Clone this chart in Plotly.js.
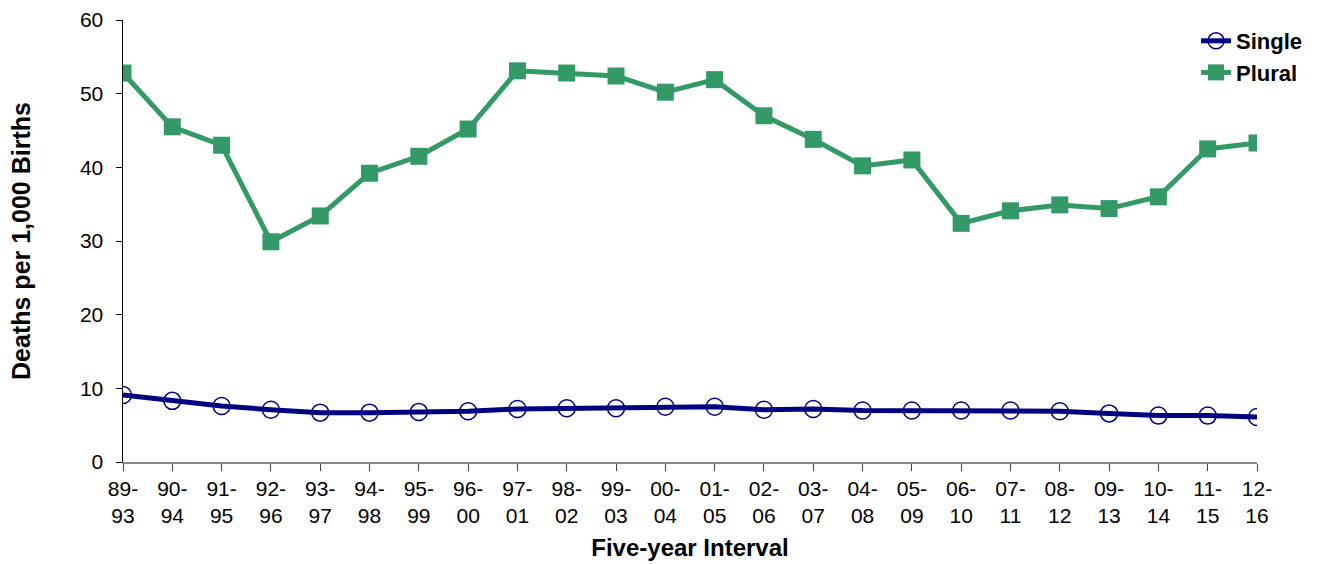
<!DOCTYPE html>
<html><head><meta charset="utf-8">
<script src="https://cdn.plot.ly/plotly-3.0.1.min.js"></script>
<style>body{margin:0;background:#fff}#chart{width:1320px;height:564px}</style>
</head><body><div id="chart"></div>
<script>
const categories = ["89-<br>93","90-<br>94","91-<br>95","92-<br>96","93-<br>97","94-<br>98","95-<br>99","96-<br>00","97-<br>01","98-<br>02","99-<br>03","00-<br>04","01-<br>05","02-<br>06","03-<br>07","04-<br>08","05-<br>09","06-<br>10","07-<br>11","08-<br>12","09-<br>13","10-<br>14","11-<br>15","12-<br>16"];
const single = [9.1,8.3,7.6,7.1,6.7,6.7,6.8,6.9,7.2,7.3,7.3,7.5,7.5,7.1,7.2,7.0,7.0,7.0,7.0,6.9,6.6,6.3,6.3,6.1];
const plural = [52.8,45.5,43.0,29.9,33.4,39.2,41.5,45.2,53.1,52.8,52.4,50.2,51.9,47.0,43.8,40.2,41.0,32.4,34.1,34.9,34.4,36.0,42.5,43.3];
const yTicks = [0,10,20,30,40,50,60];

const xIdx = categories.map((c,i)=>i);
const traces = [
  {x:xIdx, y:single, name:"Single", type:"scatter", mode:"lines+markers",
   line:{color:"#000080", width:5},
   marker:{symbol:"circle-open", size:17, color:"#000080", line:{width:1.5, color:"#000080"}}},
  {x:xIdx, y:plural, name:"Plural", type:"scatter", mode:"lines+markers",
   line:{color:"#339966", width:5},
   marker:{symbol:"square", size:17, color:"#339966"}}
];
const layout = {
  width:1320, height:564,
  margin:{l:123, r:59, t:20, b:102},
  paper_bgcolor:"#fff", plot_bgcolor:"#fff",
  font:{family:"Liberation Sans, Arial, sans-serif", size:21, color:"#000"},
  showlegend:true,
  legend:{x:1.045, xanchor:"right", y:1.0, yanchor:"top", bgcolor:"rgba(0,0,0,0)",
    font:{size:22, family:"Liberation Sans, Arial, sans-serif", weight:"bold"}, tracegroupgap:0},
  xaxis:{
    range:[0,23], tickmode:"array", tickvals:xIdx, ticktext:categories,
    showgrid:false, zeroline:false, showline:true, linecolor:"#888", linewidth:1.5,
    ticks:"outside", ticklen:7, tickcolor:"#444",
    tickfont:{size:21}, tickangle:0,
    title:{text:"<b>Five-year Interval</b>", font:{size:24}, standoff:13}
  },
  yaxis:{
    range:[0,60], tickmode:"array", tickvals:yTicks,
    showgrid:false, zeroline:false, showline:true, linecolor:"#000", linewidth:1.5,
    ticks:"outside", ticklen:6, tickcolor:"#000", ticklabelstandoff:8,
    tickfont:{size:21},
    title:{text:"<b>Deaths per 1,000 Births</b>", font:{size:25}, standoff:42}
  }
};
Plotly.newPlot("chart", traces, layout, {displayModeBar:false, staticPlot:true});
</script></body></html>
